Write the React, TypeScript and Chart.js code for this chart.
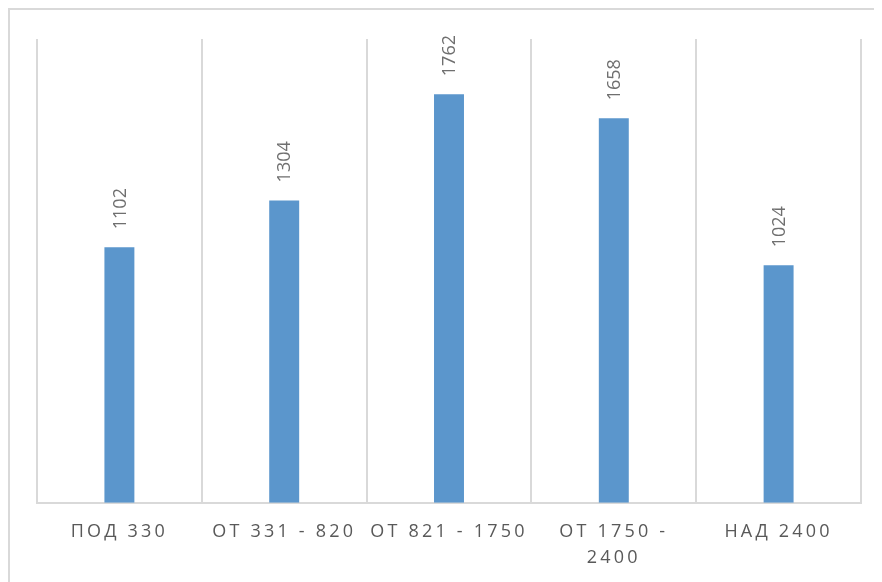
import React, { useEffect, useRef } from "react";
import { Chart, registerables } from "chart.js";

Chart.register(...registerables);

const categories: (string | string[])[] = [
  "ПОД 330",
  "ОТ 331 - 820",
  "ОТ 821 - 1750",
  ["ОТ 1750 -", "2400"],
  "НАД 2400",
];
const values: number[] = [1102, 1304, 1762, 1658, 1024];

const spacingPlugin = {
  id: "spacing",
  beforeDraw(chart: any) {
    chart.ctx.letterSpacing = "3.2px";
  },
  beforeDatasetsDraw(chart: any) {
    chart.ctx.letterSpacing = "0px";
  },
};

const labelPlugin = {
  id: "barLabels",
  afterDatasetsDraw(chart: any) {
    const ctx = chart.ctx;
    const meta = chart.getDatasetMeta(0);
    ctx.save();
    ctx.letterSpacing = "0px";
    ctx.fillStyle = "#6f6f6f";
    ctx.font = '18px "Open Sans"';
    ctx.textAlign = "left";
    ctx.textBaseline = "middle";
    meta.data.forEach((bar: any, i: number) => {
      ctx.save();
      ctx.translate(bar.x + 1, bar.y - 18);
      ctx.rotate(-Math.PI / 2);
      ctx.fillText(String(values[i]), 0, 0);
      ctx.restore();
    });
    ctx.restore();
  },
};

export default function App() {
  const ref = useRef<HTMLCanvasElement>(null);
  useEffect(() => {
    if (!ref.current) return;
    const chart = new Chart(ref.current, {
      type: "bar",
      data: {
        labels: categories,
        datasets: [
          {
            data: values,
            backgroundColor: "#5b96cc",
            borderWidth: 0,
            categoryPercentage: 1,
            barPercentage: 30 / 165,
          },
        ],
      },
      options: {
        responsive: false,
        animation: false,
        layout: { padding: { left: 27, top: 29, right: 21, bottom: 0 } },
        plugins: { legend: { display: false }, tooltip: { enabled: false } },
        scales: {
          x: {
            offset: true,
            grid: {
              offset: true,
              color: "#d9d9d9",
              lineWidth: 2,
              drawTicks: false,
              tickLength: 0,
            },
            border: { color: "#d9d9d9", width: 2 },
            ticks: {
              color: "#595959",
              font: { family: "Open Sans", size: 18, lineHeight: 1.45 },
              padding: 16,
              autoSkip: false,
              maxRotation: 0,
              minRotation: 0,
            },
          },
          y: {
            display: false,
            min: 0,
            max: 2000,
          },
        },
      },
      plugins: [spacingPlugin, labelPlugin],
    });
    return () => chart.destroy();
  }, []);
  return (
    <div
      style={{
        width: 874,
        height: 600,
        borderTop: "2px solid #d9d9d9",
        borderLeft: "2px solid #d9d9d9",
        boxSizing: "border-box",
        overflow: "hidden",
      }}
    >
      <canvas ref={ref} width={872} height={577} style={{ display: "block" }} />
    </div>
  );
}
